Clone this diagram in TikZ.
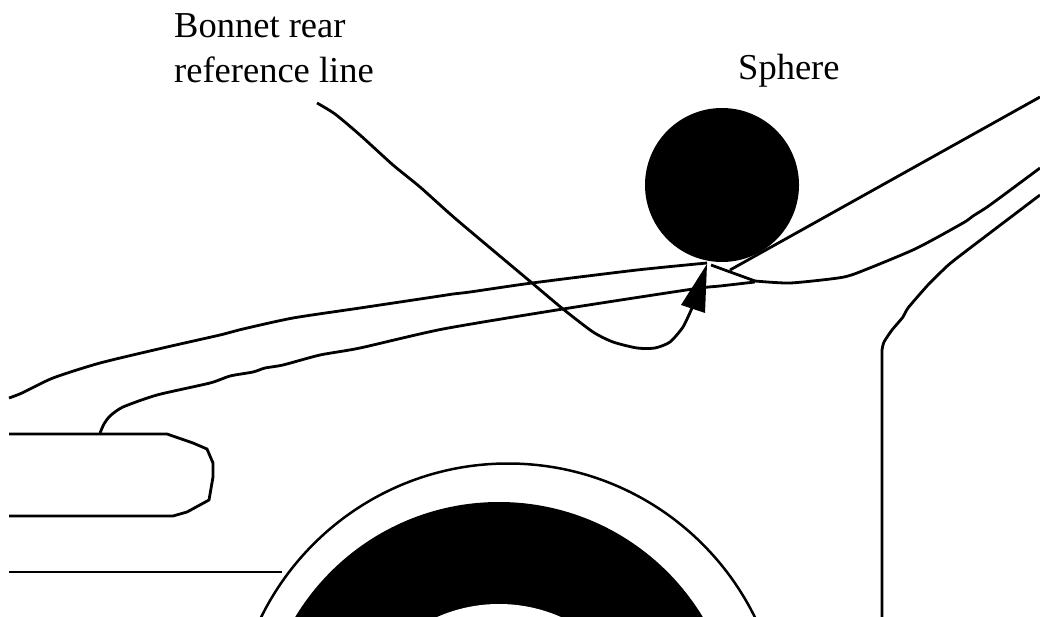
\documentclass[tikz,border=0pt]{standalone}
\usepackage{fontspec}
\setmainfont{Liberation Serif}
\tikzset{
  outline/.style={draw=black,line width=2.8pt,line join=round},
  thin outline/.style={draw=black,line width=2.5pt},
  solid fill/.style={fill=black,draw=none},
  caption/.style={font=\fontsize{36.5pt}{42pt}\selectfont,anchor=base west,inner sep=0pt,text=black}
}
\begin{document}
\begin{tikzpicture}[x=1pt,y=-1pt]
\useasboundingbox (0,0) rectangle (1040,617);
\clip (0,0) rectangle (1040,617);
% wheel
\fill[black] (499,740) circle (238);
\fill[white] (499,757) circle (153);
\draw[thin outline] (508,738.5) circle (275);
% sphere
\node[solid fill,circle,minimum size=154pt,inner sep=0pt] (sphere) at (722,185) {};
% bonnet
\draw[outline] plot[smooth,tension=0.4] coordinates {(9,398) (22,393) (53,378) (100,363) (167,347) (220,335) (243,329) (293,318) (360,308) (440,296) (453,294) (470,292) (532,283) (637,270) (707,263)};
\coordinate (tip) at (707,264);
\draw[outline] plot[smooth,tension=0.4] coordinates {(100,433) (104,424) (110,416) (123,407) (157,395) (210,383) (230,376) (253,372) (265,368) (283,365) (320,355) (360,348) (443,329) (563,309) (693,289) (720,286) (755,282)};
\draw[outline] (711,265) -- (755,281);
\draw[outline] plot[smooth,tension=0.4] coordinates {(755,281) (790,283) (838,278) (857,273) (915,249) (963,223) (973,216) (990,205) (1040,168)};
\draw[outline] (730,270) -- (1040,97);
\draw[outline] (882,617) -- (882,350) plot[smooth,tension=0.4] coordinates {(882,350) (884,342) (892,330) (903,317) (908,308) (927,286) (942,271) (957,258) (1040,195)};
% headlamp and lines
\draw[outline] (9,434) -- (167,434) -- (193,443) -- (207,449) -- (213,463) -- (213,477) -- (209,500) -- (187,512) -- (173,516) -- (9,516);
\draw[outline] (9,572) -- (282,572);
% leader
\draw[outline] plot[smooth,tension=0.4] coordinates {(317,103) (335,114) (360,135) (393,165) (420,187) (457,220) (532,283) (563,309) (593,332) (613,342) (637,348) (655,348) (670,342) (683,327) (692,308)};
\fill[black] (tip) -- (681,305) -- (705,313) -- cycle;
% text
\node[caption] (t1) at (174,38) {Bonnet rear};
\node[caption] (t2) at (174,82.5) {reference line};
\node[caption] (t3) at (738,80) {Sphere};
\end{tikzpicture}
\end{document}
